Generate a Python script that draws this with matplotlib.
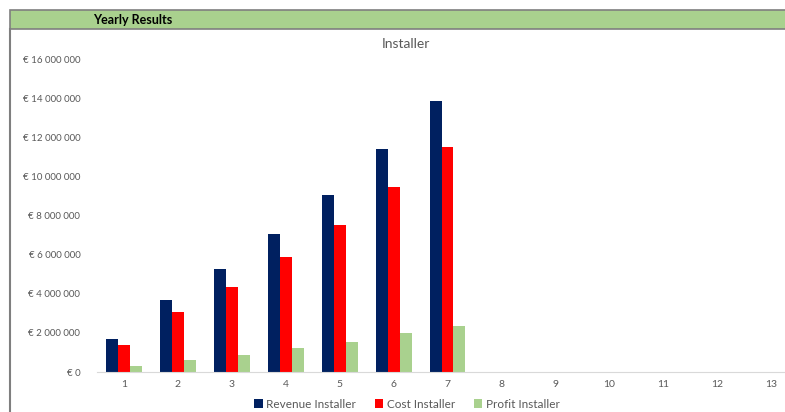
import numpy as np
import matplotlib.pyplot as plt
from matplotlib.patches import Rectangle
from matplotlib.lines import Line2D
from matplotlib.ticker import FuncFormatter

plt.rcParams['font.family'] = ['Lato', 'DejaVu Sans']

# ---------------------------------------------------------
# DATA
# ---------------------------------------------------------
years = list(range(1, 14))
revenue = [1.69e6, 3.68e6, 5.27e6, 7.06e6, 9.05e6, 11.40e6, 13.86e6, 0, 0, 0, 0, 0, 0]
cost = [1.38e6, 3.07e6, 4.35e6, 5.88e6, 7.52e6, 9.46e6, 11.50e6, 0, 0, 0, 0, 0, 0]
profit = [0.31e6, 0.61e6, 0.89e6, 1.21e6, 1.53e6, 1.99e6, 2.35e6, 0, 0, 0, 0, 0, 0]
series_names = ['Revenue Installer', 'Cost Installer', 'Profit Installer']

NAVY = '#002060'
RED = '#FF0000'
GREEN = '#A9D18E'
GREY_TXT = '#595959'

W, H = 785, 412
fig = plt.figure(figsize=(W / 100, H / 100), dpi=100)

# header band
fig.patches.append(Rectangle((10 / W, 1 - 29 / H), 1, 19 / H, transform=fig.transFigure,
                             facecolor=GREEN, edgecolor='#7f7f7f', linewidth=1.2))
fig.text(93 / W, 1 - 19.5 / H, 'Yearly Results', fontsize=9, fontweight='bold',
         color='black', va='center', ha='left')
fig.lines.append(Line2D([10 / W, 10 / W], [0, 1 - 29 / H], transform=fig.transFigure,
                        color='#7f7f7f', linewidth=1.5))

ax = fig.add_axes([97 / W, 1 - 372 / H, (798 - 97) / W, (372 - 59) / H])

x = np.array(years)
bw = 0.222
ax.bar(x - bw, revenue, bw, color=NAVY, label=series_names[0])
ax.bar(x, cost, bw, color=RED, label=series_names[1])
ax.bar(x + bw, profit, bw, color=GREEN, label=series_names[2])

ax.set_xlim(0.5, 13.5)
ax.set_ylim(0, 16e6)
ax.set_yticks(np.arange(0, 16e6 + 1, 2e6))
ax.set_xticks(years)


def euro(v, pos):
    if v == 0:
        return '€ 0'
    return '€ ' + f'{int(v):,}'.replace(',', ' ')


ax.yaxis.set_major_formatter(FuncFormatter(euro))
ax.tick_params(axis='y', length=0, pad=12, labelsize=7, labelcolor=GREY_TXT)
ax.tick_params(axis='x', length=0, pad=6, labelsize=7.5, labelcolor=GREY_TXT)

for s in ['top', 'right', 'left']:
    ax.spines[s].set_visible(False)
ax.spines['bottom'].set_color('#d9d9d9')

# chart title (the plot area runs past the right edge, so place it on the figure)
fig.text(406 / W, 1 - 44 / H, 'Installer', fontsize=10, color=GREY_TXT,
         ha='center', va='center')

fig.legend(loc='center', bbox_to_anchor=(407 / W, 1 - 404 / H), ncol=3, frameon=False,
           fontsize=8.5, labelcolor=GREY_TXT, handlelength=0.7, handleheight=0.7,
           handletextpad=0.3, columnspacing=1.6, borderaxespad=0)

fig.savefig('out.png', dpi=100)
